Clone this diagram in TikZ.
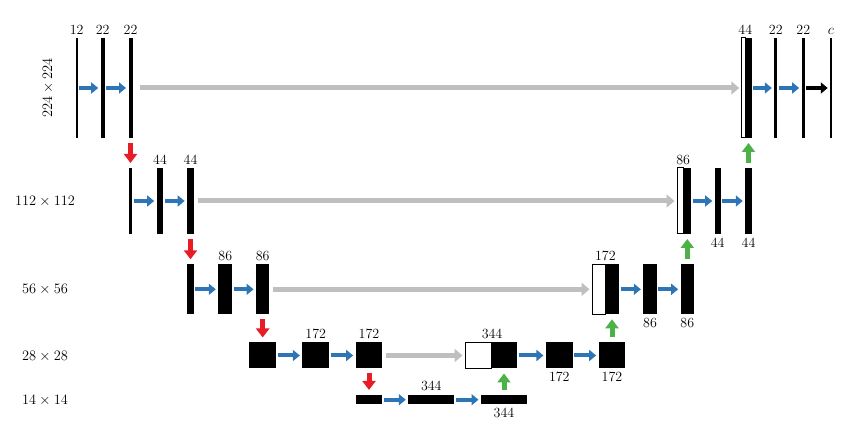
\documentclass[tikz,border=0pt]{standalone}
\usepackage{amsmath}
\usepackage{fontspec}
\usepackage{xcolor}
\usepackage{tikz}
\usetikzlibrary{arrows.meta}
\definecolor{convblue}{RGB}{46,117,182}
\definecolor{copygray}{RGB}{191,191,191}
\definecolor{poolred}{RGB}{232,28,36}
\definecolor{upgreen}{RGB}{76,178,72}
\tikzset{
  fmap/.style={rectangle, fill=black, inner sep=0pt, outer sep=0pt, minimum width=#1},
  cropmap/.style={rectangle, draw=black, line width=1pt, fill=white, inner sep=0pt, outer sep=0pt, minimum width=#1},
  res224/.style={minimum height=100pt},
  res112/.style={minimum height=66pt},
  res56/.style={minimum height=50pt},
  res28/.style={minimum height=26pt},
  res14/.style={minimum height=9.5pt},
  every label/.style={inner sep=2pt},
  label distance=1.5pt,
  conv/.style={draw=convblue, line width=4pt, -{Triangle[length=7pt,width=11pt]}, shorten <=1.5pt, shorten >=2.5pt},
  final/.style={conv, draw=black},
  copycrop/.style={draw=copygray, line width=5pt, -{Triangle[length=8pt,width=13pt]}, shorten <=4pt, shorten >=2.5pt},
  pool/.style={draw=poolred, line width=5pt, -{Triangle[length=9pt,width=13pt]}, shorten <=5pt, shorten >=5pt},
  upconv/.style={draw=upgreen, line width=5pt, -{Triangle[length=9pt,width=13pt]}, shorten <=5pt, shorten >=5pt}
}
\begin{document}
\begin{tikzpicture}[x=1pt, y=-1pt, font=\fontsize{14}{17}\selectfont]
  \useasboundingbox (0,0) rectangle (855,446);

  \node[rotate=90] (r224) at (48,88) {$224\times224$};
  \node (r112) at (45,201) {$112\times112$};
  \node (r56) at (45,289) {$56\times56$};
  \node (r28) at (45,356) {$28\times28$};
  \node (r14) at (45,400) {$14\times14$};

  \node[fmap=2pt, res224, label=above:12] (a1) at (76.7,88) {};
  \node[fmap=4pt, res224, label=above:22] (a2) at (102.7,88) {};
  \node[fmap=4pt, res224, label=above:22] (a3) at (130.5,88) {};

  \node[fmap=3pt, res112] (c1) at (130.5,201) {};
  \node[fmap=6.7pt, res112, label=above:44] (c2) at (160,201) {};
  \node[fmap=6.7pt, res112, label=above:44] (c3) at (190.5,201) {};

  \node[fmap=6.7pt, res56] (e1) at (190.5,289.3) {};
  \node[fmap=14pt, res56, label=above:86] (e2) at (225.3,289.3) {};
  \node[fmap=13.3pt, res56, label=above:86] (e3) at (262.7,289.3) {};

  \node[fmap=26.7pt, res28] (g1) at (262.7,355.5) {};
  \node[fmap=26.7pt, res28, label=above:172] (g2) at (315.7,355.5) {};
  \node[fmap=26.7pt, res28, label=above:172] (g3) at (369,355.5) {};

  \node[fmap=26.7pt, res14] (k1) at (369,399.7) {};
  \node[fmap=46pt, res14, label=above:344] (k2) at (431.3,399.7) {};
  \node[fmap=46pt, res14, label=below:344] (k3) at (504,399.7) {};

  \node[cropmap=26pt, res28, label={[anchor=south]north east:344}] (x4w) at (478,355.5) {};
  \node[fmap=26pt, res28] (x4) at (504,355.5) {};
  \node[fmap=26.7pt, res28, label=below:172] (h1) at (559.3,355.5) {};
  \node[fmap=26.7pt, res28, label=below:172] (h2) at (612,355.5) {};

  \node[cropmap=13pt, res56, label={[anchor=south]north east:172}] (w3w) at (598.5,289.3) {};
  \node[fmap=14pt, res56] (w3) at (612,289.3) {};
  \node[fmap=13.3pt, res56, label=below:86] (f1) at (650,289.3) {};
  \node[fmap=13.3pt, res56, label=below:86] (f2) at (687.3,289.3) {};

  \node[cropmap=6pt, res112, label={[anchor=south]north east:86}] (v1w) at (680,201) {};
  \node[fmap=8pt, res112] (v1) at (687.3,201) {};
  \node[fmap=6pt, res112, label=below:44] (d1) at (717.7,201) {};
  \node[fmap=6.5pt, res112, label=below:44] (d2) at (748.5,201) {};

  \node[cropmap=3.5pt, res224, label={[anchor=south]north east:44}] (u1w) at (743.5,88) {};
  \node[fmap=6pt, res224] (u1) at (748.5,88) {};
  \node[fmap=3pt, res224, label=above:22] (b1) at (775.8,88) {};
  \node[fmap=3.3pt, res224, label=above:22] (b2) at (803.3,88) {};
  \node[fmap=1.5pt, res224, label=above:$c$] (b3) at (831,88) {};

  \draw[conv] (a1) -- (a2);
  \draw[conv] (a2) -- (a3);
  \draw[conv] (c1) -- (c2);
  \draw[conv] (c2) -- (c3);
  \draw[conv] (e1) -- (e2);
  \draw[conv] (e2) -- (e3);
  \draw[conv] (g1) -- (g2);
  \draw[conv] (g2) -- (g3);
  \draw[conv] (k1) -- (k2);
  \draw[conv] (k2) -- (k3);
  \draw[conv] (x4) -- (h1);
  \draw[conv] (h1) -- (h2);
  \draw[conv] (w3) -- (f1);
  \draw[conv] (f1) -- (f2);
  \draw[conv] (v1) -- (d1);
  \draw[conv] (d1) -- (d2);
  \draw[conv] (u1) -- (b1);
  \draw[conv] (b1) -- (b2);
  \draw[final] (b2) -- (b3);

  \draw[copycrop, shorten <=7pt] (a3) -- (u1w);
  \draw[copycrop] (c3) -- (v1w);
  \draw[copycrop] (e3) -- (w3w);
  \draw[copycrop] (g3) -- (x4w);

  \draw[pool] (a3) -- (c1);
  \draw[pool] (c3) -- (e1);
  \draw[pool] (e3) -- (g1);
  \draw[pool] (g3) -- (k1);

  \draw[upconv] (k3) -- (x4);
  \draw[upconv] (h2) -- (w3);
  \draw[upconv] (f2) -- (v1);
  \draw[upconv] (d2) -- (u1);
\end{tikzpicture}
\end{document}
